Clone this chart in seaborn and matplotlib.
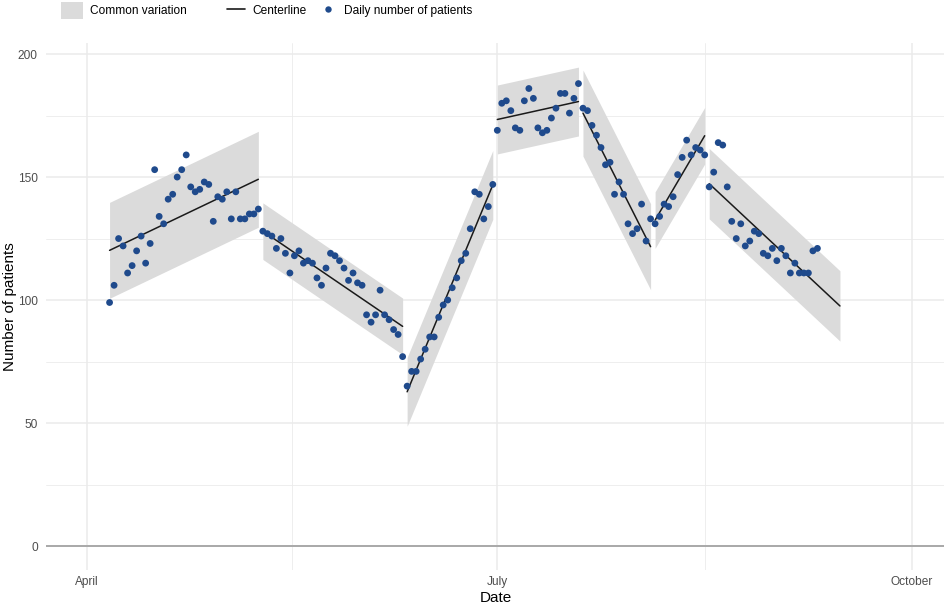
import matplotlib
matplotlib.use("Agg")
import matplotlib.pyplot as plt
import matplotlib.dates as mdates
from matplotlib.patches import Patch
from matplotlib.lines import Line2D
import numpy as np
import pandas as pd
import seaborn as sns

# phases of the run chart (first day, last day of the centerline)
phase_start = ["2020-04-06", "2020-05-10", "2020-06-11", "2020-07-01",
               "2020-07-20", "2020-08-05", "2020-08-17"]
phase_end = ["2020-05-09", "2020-06-10", "2020-06-30", "2020-07-19",
             "2020-08-04", "2020-08-16", "2020-09-15"]

# daily number of patients, one list per phase
patients = [
    [99, 106, 125, 122, 111, 114, 120, 126, 115, 123, 153, 134, 131, 141, 143, 150, 153,
     159, 146, 144, 145, 148, 147, 132, 142, 141, 144, 133, 144, 133, 133, 135, 135, 137],
    [128, 127, 126, 121, 125, 119, 111, 118, 120, 115, 116, 115, 109, 106, 113, 119,
     118, 116, 113, 108, 111, 107, 106, 94, 91, 94, 104, 94, 92, 88, 86, 77],
    [65, 71, 71, 76, 80, 85, 85, 93, 98, 100, 105, 109, 116, 119, 129, 144, 143, 133, 138, 147],
    [169, 180, 181, 177, 170, 169, 181, 186, 182, 170, 168, 169, 174, 178, 184, 184, 176, 182, 188],
    [178, 177, 171, 167, 162, 155, 156, 143, 148, 143, 131, 127, 129, 139, 124, 133],
    [131, 134, 139, 138, 142, 151, 158, 165, 159, 162, 161, 159],
    [146, 152, 164, 163, 146, 132, 125, 131, 122, 124, 128, 127, 119, 118, 121, 116,
     121, 118, 111, 115, 111, 111, 111, 120, 121],
]

# centerline at start / end of each phase and half width of the common variation band
center_start = [120.2, 128.0, 62.7, 173.4, 176.0, 132.5, 147.3]
center_end = [149.1, 89.3, 146.8, 180.7, 121.7, 166.8, 97.6]
band_half = [19.5, 11.5, 14.0, 14.0, 17.5, 11.5, 14.3]

month_ticks = ["2020-04-01", "2020-07-01", "2020-10-01"]
month_labels = ["April", "July", "October"]

point_color = "#1f4a8c"
band_color = "#dbdbdb"

# build tables
rows = []
for i, vals in enumerate(patients):
    days = pd.date_range(phase_start[i], periods=len(vals), freq="D")
    for d, v in zip(days, vals):
        rows.append({"phase": i, "date": d, "patients": v})
points_df = pd.DataFrame(rows)

center_df = pd.DataFrame({
    "phase": list(range(len(phase_start))) * 2,
    "date": pd.to_datetime(phase_start + phase_end),
    "value": center_start + center_end,
})

sns.set_style("white")
plt.rcParams["font.family"] = ["Liberation Sans", "DejaVu Sans"]

fig = plt.figure(figsize=(9.45, 6.04), dpi=100)
ax = fig.add_axes([46 / 945, 1 - 570 / 604, 899 / 945, 527 / 604])

for i in range(len(phase_start)):
    x = pd.to_datetime([phase_start[i], phase_end[i]])
    c = np.array([center_start[i], center_end[i]])
    ax.fill_between(x, c - band_half[i], c + band_half[i],
                    color=band_color, linewidth=0, zorder=1)

ax.axhline(0, color="#a3a3a3", linewidth=1.3, zorder=1.5)

sns.lineplot(data=center_df, x="date", y="value", units="phase", estimator=None,
             color="#1a1a1a", linewidth=1.1, ax=ax, zorder=2)
sns.scatterplot(data=points_df, x="date", y="patients", color=point_color, s=24,
                edgecolor="none", ax=ax, zorder=3)

# axes
t0 = mdates.date2num(pd.Timestamp(month_ticks[0]))
t2 = mdates.date2num(pd.Timestamp(month_ticks[2]))
ax.set_xlim(t0 - 9.1, t2 + 7.3)
ax.set_ylim(-9.75, 204.5)

tick_nums = [mdates.date2num(pd.Timestamp(t)) for t in month_ticks]
ax.set_xticks(tick_nums)
ax.set_xticklabels(month_labels)
ax.set_xticks([(tick_nums[0] + tick_nums[1]) / 2, (tick_nums[1] + tick_nums[2]) / 2], minor=True)
ax.set_yticks([0, 50, 100, 150, 200])
ax.set_yticks([25, 75, 125, 175], minor=True)

ax.grid(which="major", color="#ebebeb", linewidth=1.1)
ax.grid(which="minor", color="#ebebeb", linewidth=0.6)
ax.set_axisbelow(True)
for s in ax.spines.values():
    s.set_visible(False)
ax.tick_params(which="both", length=0, labelsize=8.6, labelcolor="#4d4d4d")
ax.tick_params(axis="x", pad=4)
ax.tick_params(axis="y", pad=6)

ax.set_xlabel("Date", fontsize=11, color="black")
ax.xaxis.set_label_coords(0.5, -0.04)
ax.set_ylabel("Number of patients", fontsize=11, color="black")
ax.yaxis.set_label_coords(-0.032, 0.5)

# legend: three separate keys on top, like the original
legend_y = 1 - 10.5 / 604
keys = [
    (Patch(facecolor=band_color, edgecolor="none"), "Common variation", 61, 1.84, 1.76),
    (Line2D([], [], color="#1a1a1a", linewidth=1.2), "Centerline", 227, 1.5, 1.0),
    (Line2D([], [], color=point_color, marker="o", linestyle="none", markersize=4.6,
            markeredgewidth=0), "Daily number of patients", 319, 1.5, 1.0),
]
for handle, label, x_px, hl, hh in keys:
    leg = fig.legend([handle], [label], loc="center left",
                     bbox_to_anchor=(x_px / 945, legend_y), frameon=False,
                     fontsize=8.6, handlelength=hl, handleheight=hh,
                     handletextpad=0.6, borderpad=0, borderaxespad=0)
    leg.get_texts()[0].set_color("black")

fig.savefig("out.png", dpi=100)
